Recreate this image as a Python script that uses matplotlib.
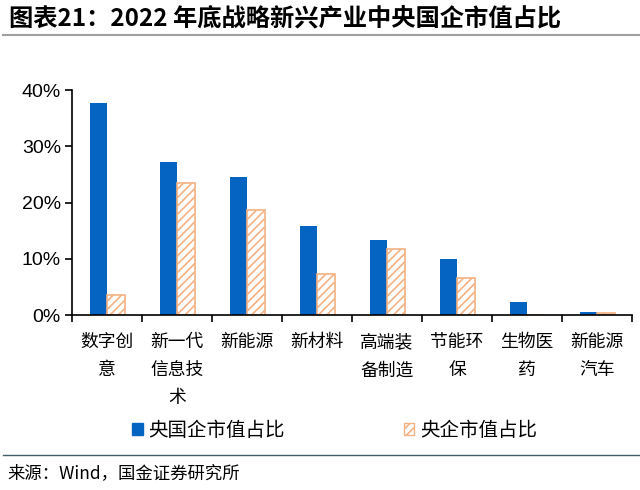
import matplotlib.pyplot as plt
import numpy as np
from matplotlib.lines import Line2D
from matplotlib.patches import Patch

plt.rcParams['font.family'] = ['Noto Sans CJK SC', 'DejaVu Sans']
plt.rcParams['hatch.linewidth'] = 1.2

categories = ['数字创\n意', '新一代\n信息技\n术', '新能源', '新材料',
              '高端装\n备制造', '节能环\n保', '生物医\n药', '新能源\n汽车']
soe_share = [37.7, 27.2, 24.5, 15.8, 13.3, 10.0, 2.3, 0.6]
central_share = [3.6, 23.5, 18.7, 7.3, 11.8, 6.6, 0.0, 0.4]
yticks = [0, 10, 20, 30, 40]

blue = '#0563C1'
orange = '#F4B183'

fig = plt.figure(figsize=(6.4, 4.9), dpi=100)
ax = fig.add_axes([0.1125, 0.357, 0.875, 0.459])

x = np.arange(len(categories))
w = 0.25
ax.bar(x - w / 2, soe_share, w, color=blue, label='央国企市值占比')
ax.bar(x + w / 2, central_share, w, color='white', edgecolor=orange,
       hatch='////', linewidth=1.2, label='央企市值占比')

ax.set_xlim(-0.5, len(categories) - 0.5)
ax.set_ylim(0, 40)
ax.set_yticks(yticks)
ax.set_yticklabels(['{}%'.format(v) for v in yticks],
                   fontsize=14, family='Liberation Sans')
ax.set_xticks(x)
ax.set_xticklabels(categories, fontsize=12.8, linespacing=1.72)
ax.tick_params(axis='x', length=0, pad=13)
ax.set_xticks(np.arange(len(categories) + 1) - 0.5, minor=True)
ax.tick_params(axis='x', which='minor', length=5, width=1.2, direction='out')
ax.tick_params(axis='y', length=5, width=1.2, direction='out', pad=3)
for s in ['top', 'right']:
    ax.spines[s].set_visible(False)
for s in ['left', 'bottom']:
    ax.spines[s].set_linewidth(1.2)

handles = [Patch(facecolor=blue, edgecolor=blue),
           Patch(facecolor='white', edgecolor=orange, hatch='////')]
fig.legend(handles, ['央国企市值占比', '央企市值占比'], loc='center',
           bbox_to_anchor=(0.523, 0.122), ncol=2, frameon=False,
           fontsize=14, handlelength=0.55, handleheight=0.55,
           handletextpad=0.3, columnspacing=6.1)

fig.text(0.014, 0.963, '图表21：2022 年底战略新兴产业中央国企市值占比',
         fontsize=17.5, fontweight='bold', style='italic', va='center')
fig.add_artist(Line2D([0.005, 1.0], [0.928, 0.928], color='#A0A0A0', lw=1.5))
fig.add_artist(Line2D([0.005, 1.0], [0.072, 0.072], color='#40606A', lw=1))
fig.text(0.012, 0.035, '来源：Wind，国金证券研究所', fontsize=12.5, va='center')

fig.savefig('out.png', dpi=100)
